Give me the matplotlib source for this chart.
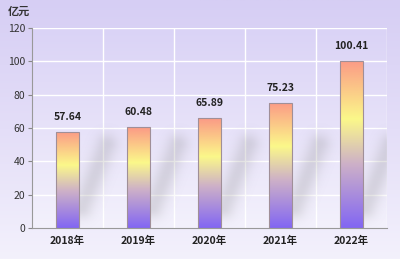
import numpy as np
import matplotlib.pyplot as plt
from matplotlib.colors import LinearSegmentedColormap
from matplotlib.patches import Rectangle

plt.rcParams['font.family'] = ['Noto Sans CJK SC', 'DejaVu Sans']

years = ['2018年', '2019年', '2020年', '2021年', '2022年']
values = [57.64, 60.48, 65.89, 75.23, 100.41]
labels = ['57.64', '60.48', '65.89', '75.23', '100.41']
yticks = [0, 20, 40, 60, 80, 100, 120]

fig = plt.figure(figsize=(4, 2.59), dpi=100)

# background gradient for the whole figure
bg = fig.add_axes([0, 0, 1, 1], zorder=-10)
bg_cmap = LinearSegmentedColormap.from_list('bg', ['#d6cef4', '#e4def8', '#f3f1fc'])
bg.imshow(np.linspace(0, 1, 256).reshape(-1, 1), aspect='auto', cmap=bg_cmap,
          extent=[0, 1, 0, 1])
bg.axis('off')

ax = fig.add_axes([0.08, 0.12, 0.8875, 0.772])
ax.set_facecolor('none')
n = len(years)
x = np.arange(n)

# plot area gradient (lavender at top, paler at the bottom)
pa_cmap = LinearSegmentedColormap.from_list('pa', ['#dad3f6', '#e7e2f9', '#f3f1fc'])
ax.imshow(np.linspace(0, 1, 256).reshape(-1, 1), aspect='auto', cmap=pa_cmap,
          extent=[-0.5, n - 0.5, 0, 120], origin='upper', zorder=0)

# grid
for yv in yticks[1:]:
    ax.axhline(yv, color='white', lw=1.0, zorder=1)
for xv in np.arange(0.5, n, 1):
    ax.axvline(xv, color='white', lw=1.0, zorder=1)

# soft diagonal shadows
gx = np.linspace(-0.5, n - 0.5, 500)
gy = np.linspace(0, 120, 300)
GX, GY = np.meshgrid(gx, gy)
alpha = np.zeros_like(GX)
sx, sy = 71.0, 200.0 / 120.0
for c in x:
    p0 = np.array([c + 0.2, 12.0])
    p1 = np.array([c + 0.55, 50.0])
    dx, dy = (p1 - p0) * [sx, sy]
    px = (GX - p0[0]) * sx
    py = (GY - p0[1]) * sy
    t = np.clip((px * dx + py * dy) / (dx * dx + dy * dy), 0, 1)
    d = np.hypot(px - t * dx, py - t * dy)
    alpha = np.maximum(alpha, 0.22 * np.exp(-(d / 11.0) ** 2))
shadow = np.zeros(GX.shape + (4,))
shadow[..., :3] = 0.5
shadow[..., 3] = alpha
ax.imshow(shadow, aspect='auto', origin='lower', extent=[-0.5, n - 0.5, 0, 120], zorder=1.5)

# gradient bars
bar_cmap = LinearSegmentedColormap.from_list(
    'bar', [(0, '#fb9a86'), (0.35, '#fbf88a'), (0.62, '#cdb0c8'), (1, '#8266f3')])
width = 0.32
bars = ax.bar(x, values, width=width, color='none', edgecolor='#a08f98', lw=0.8, zorder=3)
for b in bars:
    x0, y0 = b.get_x(), b.get_y()
    w, h = b.get_width(), b.get_height()
    im = ax.imshow(np.linspace(0, 1, 256).reshape(-1, 1), aspect='auto', cmap=bar_cmap,
                   extent=[x0, x0 + w, y0, y0 + h], origin='upper', zorder=2)
    im.set_clip_path(Rectangle((x0, y0), w, h, transform=ax.transData))

for xi, v, lab in zip(x, values, labels):
    ax.text(xi, v + 6, lab, ha='center', va='bottom', fontsize=7.5,
            fontweight='bold', color='#222222', zorder=4)

ax.set_xticks(x)
ax.set_xticklabels(years, fontsize=7.5, fontweight='bold', color='#222222')
ax.set_yticks(yticks)
ax.set_yticklabels([str(v) for v in yticks], fontsize=7.5, color='#333333')
ax.tick_params(axis='x', length=0, pad=6)
ax.tick_params(axis='y', length=3, width=0.8, color='#888888', pad=2)
for s in ['top', 'right']:
    ax.spines[s].set_visible(False)
for s in ['left', 'bottom']:
    ax.spines[s].set_color('#999999')
    ax.spines[s].set_linewidth(0.8)
ax.set_xlim(-0.5, n - 0.5)
ax.set_ylim(0, 120)

fig.text(0.02, 0.955, '亿元', fontsize=8, fontweight='bold', color='#333333',
         ha='left', va='center')

fig.savefig('out.png', dpi=100)
